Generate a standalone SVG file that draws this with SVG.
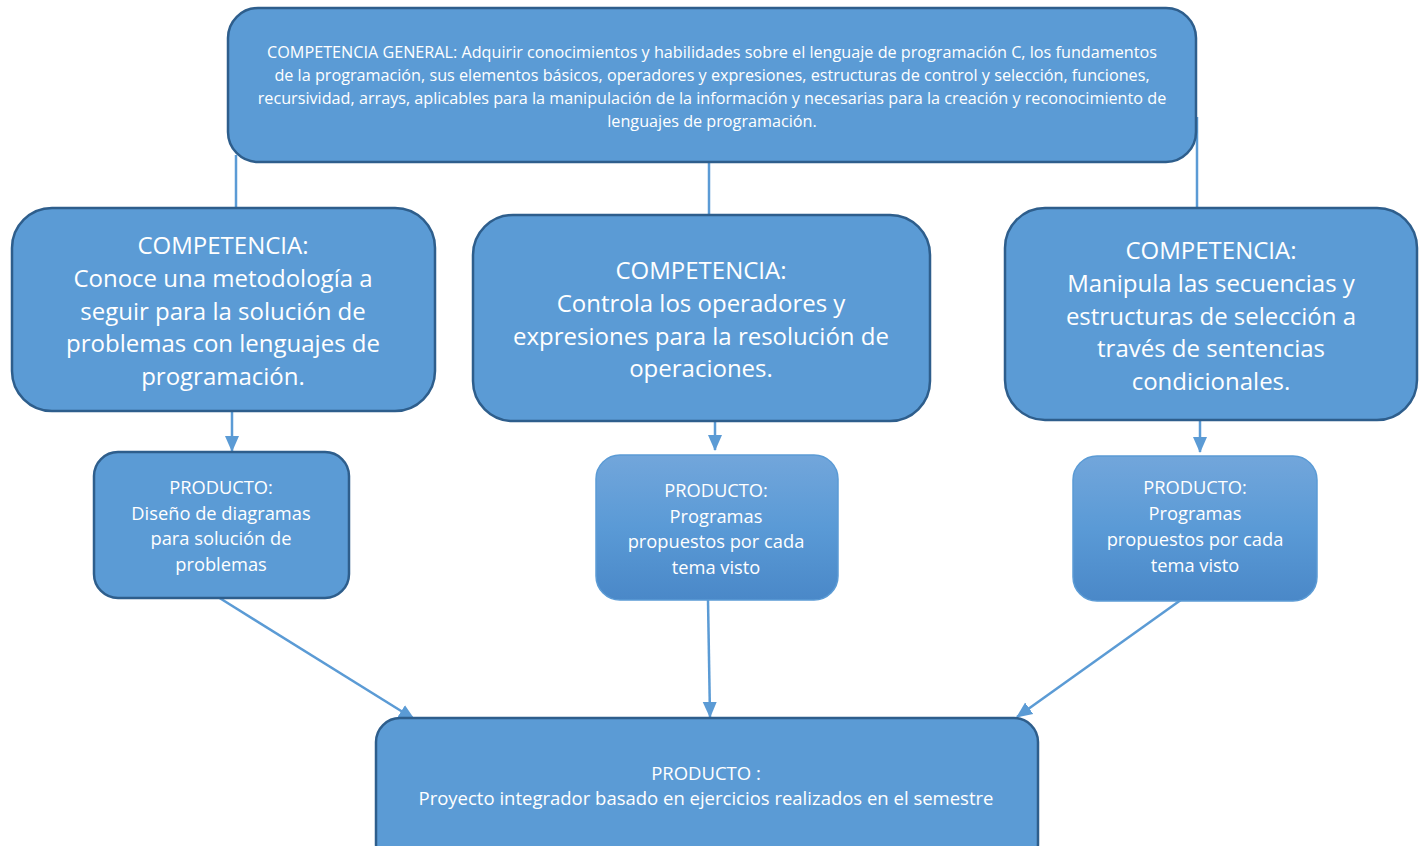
<svg xmlns="http://www.w3.org/2000/svg" width="1426" height="846" viewBox="0 0 1426 846">
<defs>
<linearGradient id="grad" x1="0" y1="0" x2="0" y2="1">
<stop offset="0" stop-color="#72a6db"/>
<stop offset="0.5" stop-color="#5a9ad6"/>
<stop offset="1" stop-color="#4a88c8"/>
</linearGradient>
<marker id="arrL" markerWidth="16" markerHeight="16" refX="15" refY="8" orient="auto" markerUnits="userSpaceOnUse" viewBox="0 0 16 16">
<path d="M0,1 L16,8 L0,15 z" fill="#5b9bd5"/>
</marker>
</defs>
<style>
.box{fill:#5b9bd5;stroke:#2e5e8c;stroke-width:2.5}
.gbox{fill:url(#grad);stroke:#5b9bd5;stroke-width:1.5}
.ln{stroke:#5b9bd5;stroke-width:2.5;fill:none}
text{font-family:"Open Sans","Noto Sans",sans-serif;fill:#ffffff;text-anchor:middle}
.t1{font-size:16.2px}
.t2{font-size:24px}
.t3{font-size:18.3px}
.t4{font-size:18.5px}
</style>
<rect width="1426" height="846" fill="#ffffff"/>
<g id="connectors">
<line class="ln" x1="236" y1="155" x2="236" y2="209"/>
<line class="ln" x1="709" y1="162" x2="709" y2="216"/>
<line class="ln" x1="1197" y1="117" x2="1197" y2="209"/>
<line class="ln" x1="232" y1="411" x2="232" y2="451" marker-end="url(#arrL)"/>
<line class="ln" x1="715" y1="421" x2="715" y2="450" marker-end="url(#arrL)"/>
<line class="ln" x1="1200" y1="420" x2="1200" y2="452" marker-end="url(#arrL)"/>
<line class="ln" x1="218" y1="597" x2="414" y2="719" marker-end="url(#arrL)"/>
<line class="ln" x1="708" y1="600" x2="710" y2="717" marker-end="url(#arrL)"/>
<line class="ln" x1="1185" y1="597" x2="1017" y2="717" marker-end="url(#arrL)"/>
</g>
<g id="general">
<rect class="box" x="228" y="8" width="968" height="154" rx="30"/>
<text class="t1"><tspan x="712" y="58">COMPETENCIA GENERAL: Adquirir conocimientos y habilidades sobre el lenguaje de programación C, los fundamentos</tspan><tspan x="712" y="81">de la programación, sus elementos básicos, operadores y expresiones, estructuras de control y selección, funciones,</tspan><tspan x="712" y="104">recursividad, arrays, aplicables para la manipulación de la información y necesarias para la creación y reconocimiento de</tspan><tspan x="712" y="127">lenguajes de programación.</tspan></text>
</g>
<g id="comp1">
<rect class="box" x="12" y="208" width="423" height="203" rx="40"/>
<text class="t2"><tspan x="223" y="254">COMPETENCIA:</tspan><tspan x="223" y="287">Conoce una metodología a</tspan><tspan x="223" y="320">seguir para la solución de</tspan><tspan x="223" y="352">problemas con lenguajes de</tspan><tspan x="223" y="385">programación.</tspan></text>
</g>
<g id="comp2">
<rect class="box" x="473" y="215" width="457" height="206" rx="40"/>
<text class="t2"><tspan x="701" y="279">COMPETENCIA:</tspan><tspan x="701" y="312">Controla los operadores y</tspan><tspan x="701" y="345">expresiones para la resolución de</tspan><tspan x="701" y="377">operaciones.</tspan></text>
</g>
<g id="comp3">
<rect class="box" x="1005" y="208" width="412" height="212" rx="40"/>
<text class="t2"><tspan x="1211" y="259">COMPETENCIA:</tspan><tspan x="1211" y="292">Manipula las secuencias y</tspan><tspan x="1211" y="325">estructuras de selección a</tspan><tspan x="1211" y="357">través de sentencias</tspan><tspan x="1211" y="390">condicionales.</tspan></text>
</g>
<g id="prod1">
<rect class="box" x="94" y="452" width="255" height="146" rx="24"/>
<text class="t3"><tspan x="221" y="494">PRODUCTO:</tspan><tspan x="221" y="520">Diseño de diagramas</tspan><tspan x="221" y="545">para solución de</tspan><tspan x="221" y="571">problemas</tspan></text>
</g>
<g id="prod2">
<rect class="gbox" x="596" y="455" width="242" height="145" rx="24"/>
<text class="t3"><tspan x="716" y="497">PRODUCTO:</tspan><tspan x="716" y="523">Programas</tspan><tspan x="716" y="548">propuestos por cada</tspan><tspan x="716" y="574">tema visto</tspan></text>
</g>
<g id="prod3">
<rect class="gbox" x="1073" y="456" width="244" height="145" rx="24"/>
<text class="t3"><tspan x="1195" y="494">PRODUCTO:</tspan><tspan x="1195" y="520">Programas</tspan><tspan x="1195" y="546">propuestos por cada</tspan><tspan x="1195" y="572">tema visto</tspan></text>
</g>
<g id="final">
<rect class="box" x="376" y="718" width="662" height="150" rx="24"/>
<text class="t4"><tspan x="706" y="780">PRODUCTO :</tspan><tspan x="706" y="805">Proyecto integrador basado en ejercicios realizados en el semestre</tspan></text>
</g>
</svg>
